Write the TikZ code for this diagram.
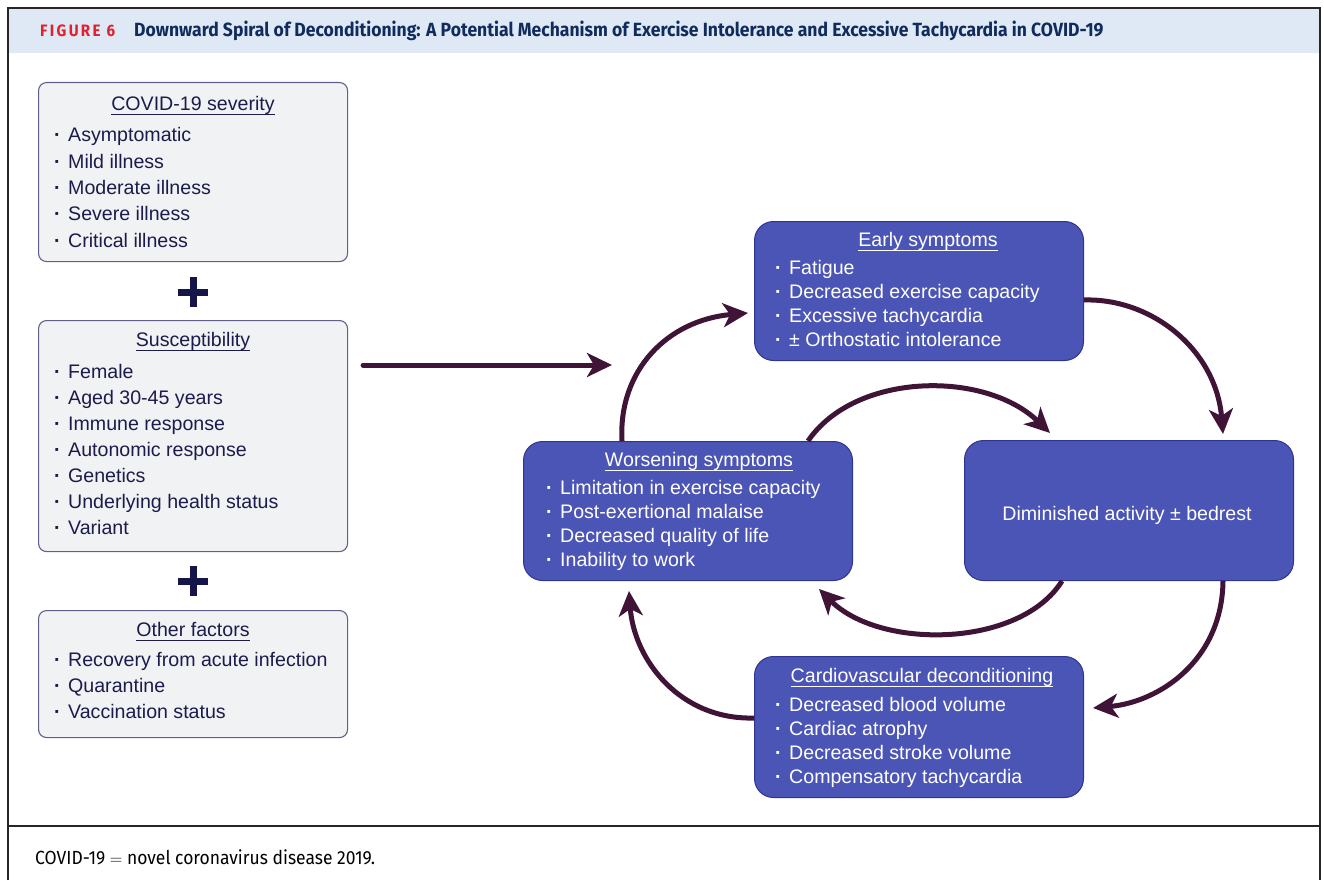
\documentclass[tikz,border=0pt]{standalone}
\usepackage{fontspec}
\setmainfont{Liberation Sans}
\newfontfamily\hdr[FakeStretch=0.92]{Fira Sans}
\usetikzlibrary{arrows.meta,calc}
\definecolor{headbg}{HTML}{DEE9F5}
\definecolor{figred}{HTML}{E0202F}
\definecolor{titlenavy}{HTML}{102B5C}
\definecolor{graybg}{HTML}{F1F2F3}
\definecolor{grayline}{HTML}{60608F}
\definecolor{darktext}{HTML}{1C1C4C}
\definecolor{bluebg}{HTML}{4B55B6}
\definecolor{blueline}{HTML}{2E3590}
\definecolor{arrowcol}{HTML}{3F1437}
\definecolor{plusnavy}{HTML}{15154A}
\newcommand\bu{\makebox[14pt][l]{\textbf{·}}}
\newcommand\uln[1]{\setbox0\hbox{#1}\rlap{\rule[-4pt]{\wd0}{1.3pt}}\box0}
\begin{document}
\begin{tikzpicture}[x=1pt,y=-1pt,
  graybox/.style={draw=grayline,line width=1.1pt,fill=graybg,rounded corners=8pt,anchor=north west,inner sep=0pt},
  bluebox/.style={draw=blueline,line width=1pt,fill=bluebg,rounded corners=19pt,anchor=north west,inner sep=0pt},
  item/.style={anchor=west,inner sep=0pt,text height=13.7pt,text depth=0pt,font=\fontsize{19.6}{22}\selectfont},
  ditem/.style={item,text=darktext},
  witem/.style={item,text=white},
  dhead/.style={ditem,anchor=center},
  whead/.style={witem,anchor=center},
  arr/.style={draw=arrowcol,line width=5pt,-{Stealth[length=25pt,width=24pt,inset=7pt]}},
  frame/.style={draw=black!85,line width=2pt},
  plus/.style={draw=plusnavy,line width=7pt}]
\useasboundingbox (0,0) rectangle (1324,880);
% header and frame
\fill[headbg] (9,9) rectangle (1319,53);
\draw[frame] (8,880) -- (8,8) -- (1320,8) -- (1320,880);
\draw[frame] (8,826) -- (1320,826);
\node[anchor=west,inner sep=0pt] (fig) at (40,31) {\hdr\bfseries\fontsize{16.5}{17}\selectfont\addfontfeatures{LetterSpace=14}\color{figred}FIGURE 6};
\node[anchor=west,inner sep=0pt] (title) at (134,31) {\hdr\bfseries\fontsize{19.1}{20}\selectfont\color{titlenavy}Downward Spiral of Deconditioning: A Potential Mechanism of Exercise Intolerance and Excessive Tachycardia in COVID-19};
\node[anchor=west,inner sep=0pt] (foot) at (35,857) {\hdr\fontsize{19}{19}\selectfont COVID-19 $=$ novel coronavirus disease 2019.};

% left boxes
\node[graybox,minimum width=309pt,minimum height=179pt] (sev) at (38,82) {};
\node[dhead] (sevH) at (193,104) {\uln{COVID-19 severity}};
\foreach \t [count=\i] in {Asymptomatic,Mild illness,Moderate illness,Severe illness,Critical illness}
  \node[ditem] (sev\i) at (54,{135+26.3*(\i-1)}) {\bu\t};

\draw[plus] (178,292) -- (208,292) (193,277) -- (193,307);

\node[graybox,minimum width=309pt,minimum height=231pt] (sus) at (38,320) {};
\node[dhead] (susH) at (193,340) {\uln{Susceptibility}};
\foreach \t [count=\i] in {Female,Aged 30-45 years,Immune response,Autonomic response,Genetics,Underlying health status,Variant}
  \node[ditem] (sus\i) at (54,{372+26*(\i-1)}) {\bu\t};

\draw[plus] (178,581) -- (208,581) (193,566) -- (193,596);

\node[graybox,minimum width=309pt,minimum height=127pt] (oth) at (38,610) {};
\node[dhead] (othH) at (193,630) {\uln{Other factors}};
\foreach \t [count=\i] in {Recovery from acute infection,Quarantine,Vaccination status}
  \node[ditem] (oth\i) at (54,{660+26*(\i-1)}) {\bu\t};

% blue boxes
\node[bluebox,minimum width=329pt,minimum height=139pt] (ear) at (754,221) {};
\node[whead] (earH) at (928,240) {\uln{Early symptoms}};
\foreach \t [count=\i] in {Fatigue,Decreased exercise capacity,Excessive tachycardia,± Orthostatic intolerance}
  \node[witem] (ear\i) at (775,{268+24*(\i-1)}) {\bu\t};

\node[bluebox,minimum width=329pt,minimum height=139pt] (wor) at (523,441) {};
\node[whead] (worH) at (699,460) {\uln{Worsening symptoms}};
\foreach \t [count=\i] in {Limitation in exercise capacity,Post-exertional malaise,Decreased quality of life,Inability to work}
  \node[witem] (wor\i) at (546,{488+24*(\i-1)}) {\bu\t};

\node[bluebox,minimum width=329pt,minimum height=140pt] (dim) at (964,440) {};
\node[whead] (dimT) at (1127,514) {Diminished activity ± bedrest};

\node[bluebox,minimum width=329pt,minimum height=141pt] (car) at (754,656) {};
\node[whead] (carH) at (922,676) {\uln{Cardiovascular deconditioning}};
\foreach \t [count=\i] in {Decreased blood volume,Cardiac atrophy,Decreased stroke volume,Compensatory tachycardia}
  \node[witem] (car\i) at (775,{705+24*(\i-1)}) {\bu\t};

% connectors
\coordinate (entry) at (612,365);
\draw[arr,line cap=round] ($(sus.north east)+(15,45)$) -- (entry);
\draw[arr] ($(wor.north west)+(99,0)$) .. controls (618,370) and (668,320) .. ($(ear.north west)+(-6,92)$);
\draw[arr] ($(ear.north east)+(0,79)$) .. controls (1152,298) and (1216,350) .. ($(dim.north east)+(-71,-6)$);
\draw[arr] ($(wor.north west)+(285,0)$) .. controls (855,372) and (985,370) .. ($(dim.north west)+(86,-7)$);
\draw[arr] ($(dim.south west)+(98,0)$) .. controls (1020,648) and (880,650) .. ($(wor.south east)+(-34,8)$);
\draw[arr] ($(dim.south east)+(-71,0)$) .. controls (1222,660) and (1160,702) .. ($(car.north east)+(9,52)$);
\draw[arr] ($(car.north west)+(0,62)$) .. controls (680,720) and (634,660) .. ($(wor.south west)+(106,10)$);
\end{tikzpicture}
\end{document}
